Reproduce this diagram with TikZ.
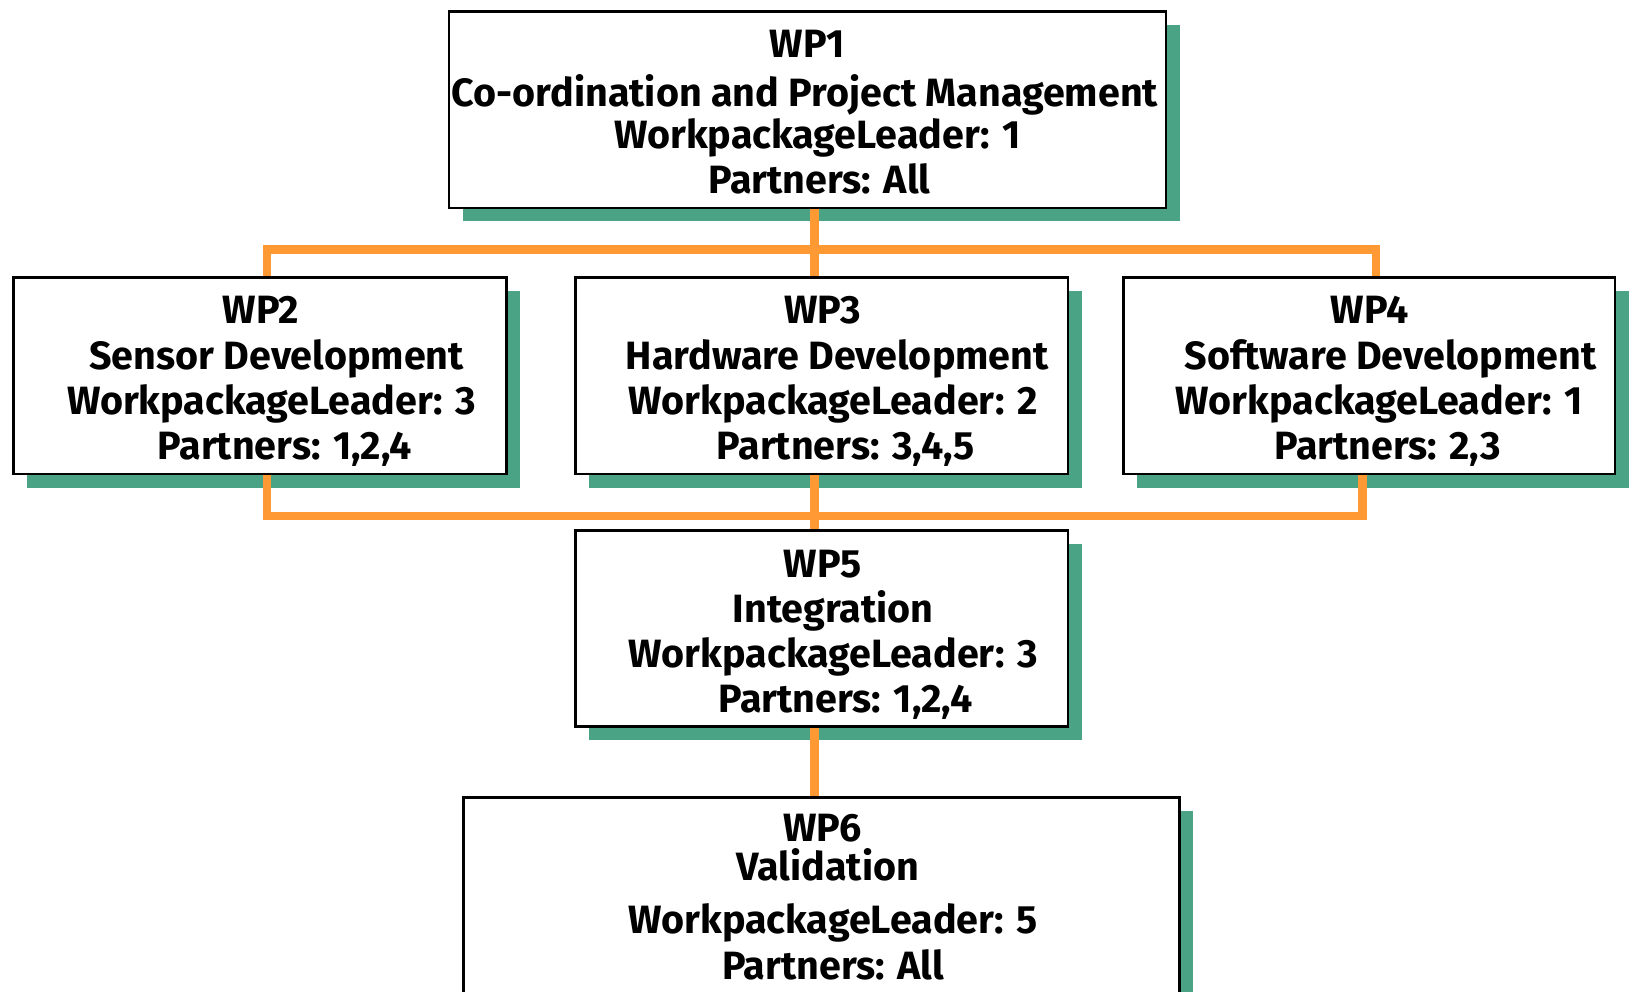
\documentclass[tikz,border=0pt]{standalone}
\usepackage{fontspec}
\setmainfont{Fira Sans}
\definecolor{shadowgreen}{RGB}{74,163,132}
\definecolor{wireorange}{RGB}{255,153,51}
\pgfdeclarelayer{bg}
\pgfsetlayers{bg,main}
\begin{document}
\begin{tikzpicture}[x=0.5pt,y=-0.5pt,
  wpbox/.style={draw=black, line width=1.2pt, fill=white, inner sep=0pt, outer sep=0pt},
  wire/.style={draw=wireorange, line width=4pt, line join=miter},
  txt/.style={anchor=base, inner sep=0pt, font=\bfseries\fontsize{18.9}{22}\selectfont}]
\useasboundingbox (0,0) rectangle (1568,950);
\begin{scope}
\clip (0,0) rectangle (1568,950);
% boxes
\node[wpbox, minimum width=343.5pt, minimum height=94pt] (wp1) at (773.5,105) {};
\node[wpbox, minimum width=236pt, minimum height=94pt] (wp2) at (249,360) {};
\node[wpbox, minimum width=236pt, minimum height=94pt] (wp3) at (787,360) {};
\node[wpbox, minimum width=235.5pt, minimum height=94pt] (wp4) at (1311.5,360) {};
\node[wpbox, minimum width=236pt, minimum height=94pt] (wp5) at (787,602) {};
\node[wpbox, minimum width=343pt, minimum height=118pt] (wp6) at (787,882) {};
% shadows and wires behind
\begin{pgfonlayer}{bg}
  \foreach \b in {wp1,wp2,wp3,wp4,wp5,wp6}
    \fill[shadowgreen] ([shift={(13,13)}]\b.south west) rectangle ([shift={(13,13)}]\b.north east);
  \coordinate (mid) at (780,0);
  \coordinate (tL) at (256,239);
  \coordinate (tR) at (1318,239);
  \coordinate (bL) at (256,494);
  \coordinate (bR) at (1305,494);
  \draw[wire] (wp2.north -| tL) -- (tL) -- (tR) -- (wp4.north -| tR);
  \draw[wire] (wp1.south -| mid) -- (wp3.north -| mid);
  \draw[wire] (wp2.south -| bL) -- (bL) -- (bR) -- (wp4.south -| bR);
  \draw[wire] (wp3.south -| mid) -- (wp5.north -| mid);
  \draw[wire] (wp5.south -| mid) -- (wp6.north -| mid);
\end{pgfonlayer}
% texts
\node[txt] (t1a) at (773,55) {WP1};
\node[txt] (t1b) at (771,102) {Co-ordination and Project Management};
\node[txt] (t1c) at (783,142) {WorkpackageLeader: 1};
\node[txt] (t1d) at (785,185) {Partners: All};
\node[txt] (t2a) at (250,310) {WP2};
\node[txt] (t2b) at (265,354) {Sensor Development};
\node[txt] (t2c) at (260,397) {WorkpackageLeader: 3};
\node[txt] (t2d) at (273,440) {Partners: 1,2,4};
\node[txt] (t3a) at (788,310) {WP3};
\node[txt] (t3b) at (802,354) {Hardware Development};
\node[txt] (t3c) at (798,397) {WorkpackageLeader: 2};
\node[txt] (t3d) at (810,440) {Partners: 3,4,5};
\node[txt] (t4a) at (1312,310) {WP4};
\node[txt] (t4b) at (1332,354) {Software Development};
\node[txt] (t4c) at (1321,397) {WorkpackageLeader: 1};
\node[txt] (t4d) at (1329,440) {Partners: 2,3};
\node[txt] (t5a) at (788,553) {WP5};
\node[txt] (t5b) at (798,596) {Integration};
\node[txt] (t5c) at (798,639) {WorkpackageLeader: 3};
\node[txt] (t5d) at (810,682) {Partners: 1,2,4};
\node[txt] (t6a) at (788,806) {WP6};
\node[txt] (t6b) at (793,843) {Validation};
\node[txt] (t6c) at (798,894) {WorkpackageLeader: 5};
\node[txt] (t6d) at (798,938) {Partners: All};
\end{scope}
\end{tikzpicture}
\end{document}
